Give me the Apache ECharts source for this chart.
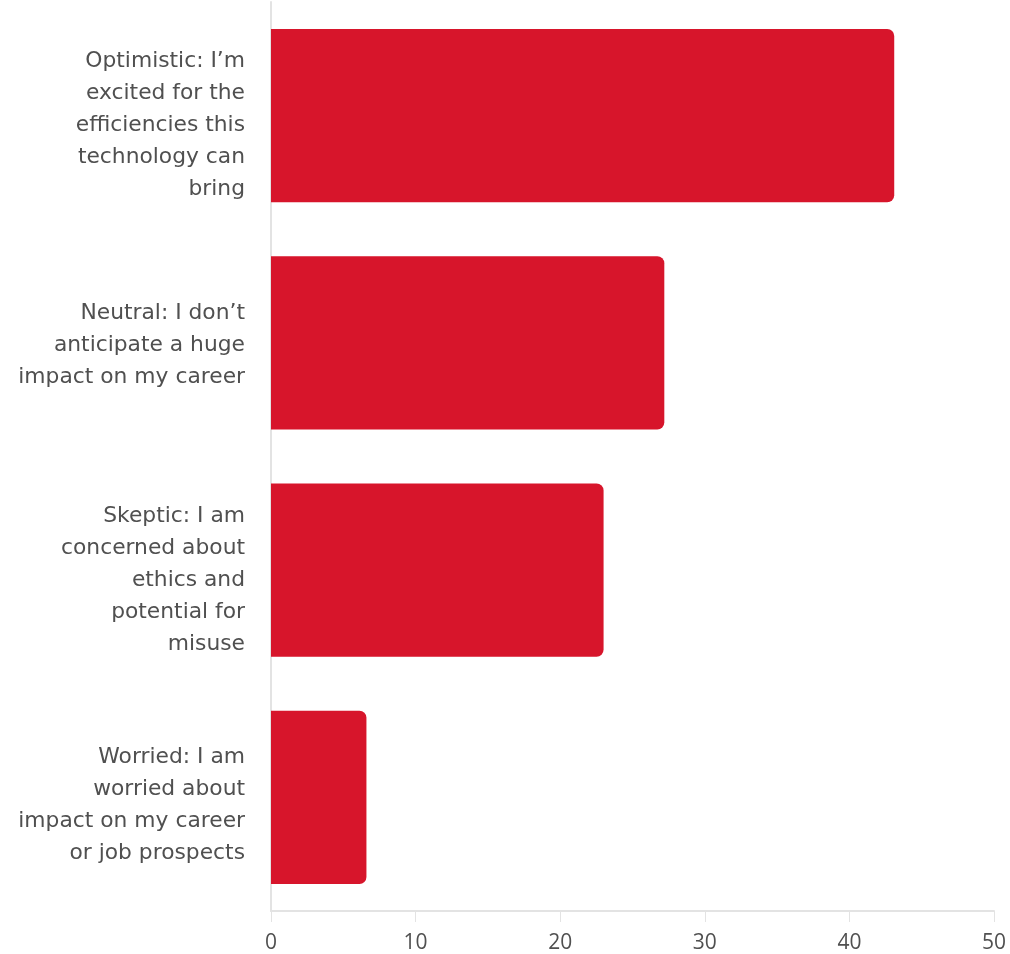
<!DOCTYPE html>
<html>
<head>
<meta charset="utf-8">
<script src="https://cdn.jsdelivr.net/npm/echarts@6/dist/echarts.min.js"></script>
<style>
  html, body { margin: 0; padding: 0; background: #ffffff; }
  #chart { width: 1010px; height: 954px; }
</style>
</head>
<body>
<div id="chart"></div>
<script>
// Survey answers, top to bottom
const categories = [
  'Optimistic: I’m\nexcited for the\nefficiencies this\ntechnology can\nbring',
  'Neutral: I don’t\nanticipate a huge\nimpact on my career',
  'Skeptic: I am\nconcerned about\nethics and\npotential for\nmisuse',
  'Worried: I am\nworried about\nimpact on my career\nor job prospects'
];
const responses = [43.1, 27.2, 23.0, 6.6];
const xTicks = [0, 10, 20, 30, 40, 50];

// Extra space above each category label block (pushes the block down by half)
const labelTopGap = [20, 4, 20, 16];

const labelFont = '"DejaVu Sans", sans-serif';
const rich = { t: { color: '#505050', fontSize: 21.8, lineHeight: 32, fontFamily: labelFont, align: 'right' } };
labelTopGap.forEach((g, i) => {
  rich['g' + i] = { fontSize: 1, lineHeight: g, height: g, align: 'right' };
});

const chart = echarts.init(document.getElementById('chart'));
chart.setOption({
  animation: false,
  grid: { left: 271, right: 16, top: 2, bottom: 41, containLabel: false },
  xAxis: {
    type: 'value',
    min: xTicks[0],
    max: xTicks[xTicks.length - 1],
    interval: xTicks[1] - xTicks[0],
    axisLine: { show: true, lineStyle: { color: '#e3e3e3', width: 2 } },
    axisTick: { show: true, length: 11, lineStyle: { color: '#e3e3e3', width: 1 } },
    splitLine: { show: false },
    axisLabel: {
      color: '#505050',
      fontSize: 21,
      fontFamily: '"Open Sans", sans-serif',
      margin: 22
    }
  },
  yAxis: {
    type: 'category',
    inverse: true,
    data: categories,
    axisLine: { show: true, lineStyle: { color: '#e3e3e3', width: 2 } },
    axisTick: { show: false },
    axisLabel: {
      align: 'right',
      margin: 26,
      rich: rich,
      formatter: (value, index) => {
        const lines = value.split('\n').map(l => '{t|' + l + '}');
        return '{g' + index + '| }\n' + lines.join('\n');
      }
    }
  },
  series: [{
    type: 'bar',
    data: responses,
    barCategoryGap: '23.7%',
    itemStyle: { color: '#d7152b', borderRadius: [0, 7, 7, 0] }
  }]
});
</script>
</body>
</html>
